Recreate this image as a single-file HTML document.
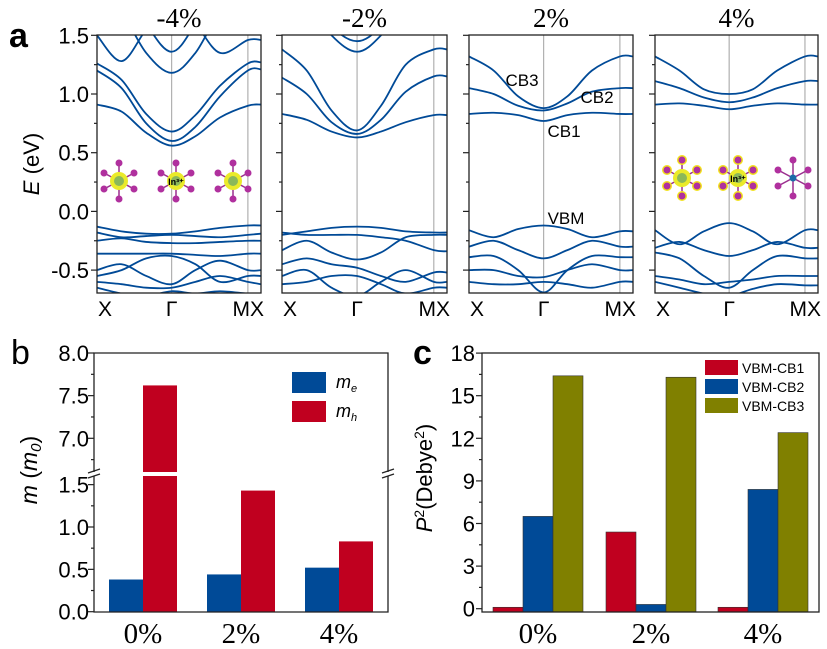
<!DOCTYPE html>
<html><head><meta charset="utf-8"><style>
body{margin:0;background:#fff}
svg{display:block}
text{font-family:"Liberation Sans",sans-serif;fill:#000}
.serif{font-family:"Liberation Serif",serif}
</style></head><body>
<svg id="fig" width="827" height="649" viewBox="0 0 827 649" xmlns="http://www.w3.org/2000/svg">
<defs></defs>
</svg>
<script>
// ---- band structure data (energies in eV at k samples) ----
const kPts = [0, 0.15, 0.3, 0.455, 0.6, 0.75, 0.92, 1.0];
const strainTitles = ["-4%", "-2%", "2%", "4%"];
const eTicks = [1.5, 1.0, 0.5, 0.0, -0.5];
const eTickLabels = ["1.5", "1.0", "0.5", "0.0", "-0.5"];
const bandsM4 = [
 [0.91,0.85,0.67,0.56,0.64,0.80,0.90,0.91],
 [1.20,1.05,0.75,0.60,0.72,0.98,1.20,1.21],
 [1.26,1.12,0.83,0.68,0.82,1.07,1.26,1.27],
 [1.90,1.70,1.35,1.18,1.35,1.70,1.90,1.90],
 [2.20,2.00,1.60,1.36,1.60,2.00,2.20,2.20],
 [1.50,1.28,1.55,1.80,1.60,1.35,1.46,1.46],
 [-0.13,-0.17,-0.19,-0.19,-0.17,-0.14,-0.12,-0.12],
 [-0.18,-0.22,-0.21,-0.20,-0.21,-0.22,-0.20,-0.19],
 [-0.25,-0.23,-0.26,-0.27,-0.27,-0.26,-0.25,-0.25],
 [-0.36,-0.36,-0.36,-0.36,-0.37,-0.38,-0.36,-0.36],
 [-0.50,-0.45,-0.55,-0.62,-0.50,-0.42,-0.50,-0.50],
 [-0.55,-0.50,-0.40,-0.38,-0.45,-0.60,-0.55,-0.55],
 [-0.60,-0.62,-0.65,-0.65,-0.60,-0.55,-0.60,-0.62],
 [-0.65,-0.70,-0.72,-0.68,-0.70,-0.68,-0.70,-0.70]
];
const bandsM2 = [
 [0.83,0.78,0.68,0.63,0.68,0.76,0.82,0.82],
 [1.14,1.00,0.76,0.66,0.78,1.02,1.15,1.15],
 [1.38,1.20,0.86,0.69,0.90,1.25,1.38,1.38],
 [2.00,1.80,1.50,1.36,1.50,1.80,2.00,2.00],
 [2.10,1.90,1.58,1.45,1.58,1.90,2.10,2.10],
 [-0.20,-0.17,-0.14,-0.13,-0.14,-0.17,-0.18,-0.18],
 [-0.33,-0.25,-0.35,-0.41,-0.35,-0.22,-0.20,-0.20],
 [-0.18,-0.20,-0.20,-0.20,-0.22,-0.25,-0.33,-0.34],
 [-0.45,-0.40,-0.45,-0.48,-0.55,-0.60,-0.52,-0.52],
 [-0.55,-0.50,-0.65,-0.72,-0.60,-0.50,-0.60,-0.60],
 [-0.62,-0.60,-0.55,-0.55,-0.62,-0.70,-0.65,-0.65]
];
const bandsP2 = [
 [0.83,0.84,0.82,0.77,0.82,0.84,0.83,0.83],
 [1.05,1.00,0.90,0.86,0.92,1.02,1.05,1.05],
 [1.32,1.20,0.98,0.88,0.98,1.20,1.32,1.32],
 [-0.16,-0.22,-0.15,-0.12,-0.15,-0.22,-0.17,-0.17],
 [-0.30,-0.25,-0.33,-0.40,-0.33,-0.25,-0.30,-0.30],
 [-0.39,-0.38,-0.50,-0.69,-0.50,-0.38,-0.39,-0.39],
 [-0.50,-0.50,-0.55,-0.56,-0.50,-0.45,-0.50,-0.50],
 [-0.60,-0.62,-0.62,-0.60,-0.62,-0.65,-0.60,-0.60]
];
const bandsP4 = [
 [0.91,0.92,0.90,0.87,0.90,0.92,0.91,0.91],
 [1.11,1.05,0.97,0.93,0.97,1.05,1.11,1.11],
 [1.32,1.20,1.04,1.00,1.04,1.20,1.32,1.32],
 [-0.16,-0.28,-0.17,-0.10,-0.17,-0.28,-0.16,-0.16],
 [-0.31,-0.26,-0.33,-0.38,-0.33,-0.26,-0.31,-0.31],
 [-0.35,-0.40,-0.55,-0.65,-0.50,-0.38,-0.40,-0.40],
 [-0.55,-0.58,-0.62,-0.60,-0.58,-0.55,-0.55,-0.55],
 [-0.60,-0.65,-0.70,-0.72,-0.66,-0.62,-0.63,-0.63]
];
const allBands = [bandsM4, bandsM2, bandsP2, bandsP4];

// ---- panel b data ----
const massCats = ["0%", "2%", "4%"];
const me = [0.38, 0.44, 0.52];
const mh = [7.62, 1.43, 0.83];
const mLowTicks = [0, 0.5, 1.0, 1.5];
const mLowLabels = ["0.0", "0.5", "1.0", "1.5"];
const mHighTicks = [7.0, 7.5, 8.0];
const mHighLabels = ["7.0", "7.5", "8.0"];

// ---- panel c data ----
const pCats = ["0%", "2%", "4%"];
const pCB1 = [0.1, 5.4, 0.1];
const pCB2 = [6.5, 0.3, 8.4];
const pCB3 = [16.4, 16.3, 12.4];
const pTicks = [0, 3, 6, 9, 12, 15, 18];
const pTickLabels = ["0", "3", "6", "9", "12", "15", "18"];

const NS = "http://www.w3.org/2000/svg";
const svg = document.getElementById("fig");
function mk(tag, attrs, parent){
  const e = document.createElementNS(NS, tag);
  for (const k in attrs) e.setAttribute(k, attrs[k]);
  (parent || svg).appendChild(e);
  return e;
}
const BLUE = "#004a97", RED = "#c0001f", OLIVE = "#808000";

// ================= panel a =================
const panelX = [[97,261],[282,447],[469,633],[655,818]];
const yTop = 35, yBot = 293;
function yE(e){ return 211.4 - e * 117.4; }
function smoothPath(pts){
  let d = "M" + pts[0][0] + "," + pts[0][1];
  for (let i = 0; i < pts.length - 1; i++){
    const p0 = pts[Math.max(0,i-1)], p1 = pts[i], p2 = pts[i+1], p3 = pts[Math.min(pts.length-1,i+2)];
    const c1x = p1[0] + (p2[0]-p0[0])/6, c1y = p1[1] + (p2[1]-p0[1])/6;
    const c2x = p2[0] - (p3[0]-p1[0])/6, c2y = p2[1] - (p3[1]-p1[1])/6;
    d += " C" + c1x + "," + c1y + " " + c2x + "," + c2y + " " + p2[0] + "," + p2[1];
  }
  return d;
}
const defs = svg.querySelector("defs");
panelX.forEach((px, pi) => {
  const [x0, x1] = px, w = x1 - x0;
  const kx = k => x0 + k * w;
  const cp = mk("clipPath", {id: "clip" + pi}, defs);
  mk("rect", {x: x0, y: yTop, width: w, height: yBot - yTop}, cp);
  const g = mk("g", {});
  
  
  [kPts[3], kPts[6]].forEach(k => {
    const l = mk("line", {x1: kx(k), x2: kx(k), y1: yTop, y2: yBot, stroke: "#b0b0b0", "stroke-width": 1.2}, g);
    
    
  });
  const bg = mk("g", {"clip-path": "url(#clip" + pi + ")"}, g);
  allBands[pi].forEach((band, bi) => {
    const pts = band.map((e, i) => [kx(kPts[i]), yE(e)]);
    const p = mk("path", {d: smoothPath(pts), fill: "none", stroke: BLUE, "stroke-width": 1.8}, bg);
    
    
  });
  const fr = mk("rect", {x: x0, y: yTop, width: w, height: yBot - yTop, fill: "none", stroke: "#222", "stroke-width": 1.3}, g);
  
  
  for (let e = 1.5; e >= -0.7; e -= 0.25){
    const major = Math.abs((e*2) - Math.round(e*2)) < 1e-6;
    mk("line", {x1: x0 - (major ? 6 : 3), x2: x0, y1: yE(e), y2: yE(e), stroke: "#222", "stroke-width": 1.2}, g);
  }
  const t = mk("text", {x: (x0+x1)/2, y: 27, "font-size": 27, "text-anchor": "middle", class: "serif"});
  t.textContent = strainTitles[pi];
  
  
  const kl = [["X", kx(0)+1, "start"], ["Γ", kx(kPts[3]), "middle"], ["MX", kx(1)+3, "end"]];
  kl.forEach(([s, x, a]) => {
    const tt = mk("text", {x: x, y: 316, "font-size": 21, "text-anchor": a});
    tt.textContent = s;
    
    
  });
});
eTicks.forEach((e, i) => {
  const t = mk("text", {x: 89, y: yE(e) + 8, "font-size": 22, "text-anchor": "end"});
  t.textContent = eTickLabels[i];
  
  
});
{
  const t = mk("text", {x: 0, y: 0, "font-size": 22, "text-anchor": "middle", transform: "translate(39,164) rotate(-90)"});
  t.innerHTML = '<tspan font-style="italic">E</tspan> (eV)';
  
  
  const a = mk("text", {x: 9, y: 47, "font-size": 34, "font-weight": "bold"});
  a.textContent = "a";
  
  
}
[["CB3",522,86],["CB2",597,103],["CB1",564,137],["VBM",566,224]].forEach(([s,x,y]) => {
  const t = mk("text", {x: x, y: y, "font-size": 17, "text-anchor": "middle"});
  t.textContent = s;
  
  
});
function molecule(cx, cy, glow, label, center){
  const g = mk("g", {});
  
  
  const arms = [[0,-18],[0,18],[-15,-8],[15,-8],[-15,8],[15,8]];
  arms.forEach(([dx,dy]) => {
    mk("line", {x1: cx, y1: cy, x2: cx+dx, y2: cy+dy, stroke: "#9a2e8e", "stroke-width": 1.5}, g);
    if (glow) mk("ellipse", {cx: cx+dx, cy: cy+dy, rx: 5, ry: 5, fill: "#f2e21c"}, g);
  });
  if (center !== "small") mk("circle", {cx: cx, cy: cy, r: 9, fill: "#eaea2a"}, g);
  mk("circle", {cx: cx, cy: cy, r: center === "small" ? 3.5 : 5, fill: center === "small" ? "#1c6ca8" : "#8bb85a"}, g);
  arms.forEach(([dx,dy]) => mk("circle", {cx: cx+dx, cy: cy+dy, r: 3.5, fill: "#b0309e"}, g));
  if (label){
    const t = mk("text", {x: cx, y: cy+4, "font-size": 9, "font-weight": "bold", "text-anchor": "middle"}, g);
    t.textContent = "In³⁺";
  }
}
molecule(119,181,false,false); molecule(176,181,false,true); molecule(233,181,false,false);
molecule(682,178,true,false); molecule(738,178,true,true); molecule(793,178,false,false,"small");

// ================= panel b =================
const bx0 = 94, bx1 = 388, byTop = 353, byBot = 612;
const breakLow = 476, breakHigh = 472;
function yLow(v){ return 611.7 - v * 84.7; }
function yHigh(v){ return 353 + (8 - v) * 85.3; }
const bCenters = [143, 241, 339], bW = 34;
function barB(x, v, color, name){
  if (v <= 1.6){
    const r = mk("rect", {x: x, y: yLow(v), width: bW, height: byBot - yLow(v), fill: color});
    
    
  } else {
    const r1 = mk("rect", {x: x, y: breakLow, width: bW, height: byBot - breakLow, fill: color});
    
    
    const r2 = mk("rect", {x: x, y: yHigh(v), width: bW, height: breakHigh - yHigh(v), fill: color});
    
    
  }
}
massCats.forEach((c, i) => {
  barB(bCenters[i] - bW, me[i], BLUE, 'me-bar-' + c.replace('%','pct'));
  barB(bCenters[i], mh[i], RED, 'mh-bar-' + c.replace('%','pct'));
  const t = mk("text", {x: bCenters[i], y: 643, "font-size": 29, "text-anchor": "middle", class: "serif"});
  t.textContent = c;
  
  
});
{
  const f = mk("path", {d: `M${bx0},${byTop} H${bx1} V${byBot} H${bx0} Z`, fill: "none", stroke: "#222", "stroke-width": 1.3});
  
  
  [bx0, bx1].forEach(x => {
    mk("rect", {x: x-6, y: breakHigh, width: 12, height: breakLow - breakHigh, fill: "#fff"});
    mk("line", {x1: x-6, y1: breakHigh+1, x2: x+6, y2: breakHigh-3, stroke: "#222", "stroke-width": 1.2});
    mk("line", {x1: x-6, y1: breakLow+2, x2: x+6, y2: breakLow-2, stroke: "#222", "stroke-width": 1.2});
  });
}
mLowTicks.forEach((v, i) => {
  mk("line", {x1: bx0-6, x2: bx0, y1: yLow(v), y2: yLow(v), stroke: "#222", "stroke-width": 1.2});
  if (v < 1.5) mk("line", {x1: bx0-3, x2: bx0, y1: yLow(v+0.25), y2: yLow(v+0.25), stroke: "#222", "stroke-width": 1.2});
  const t = mk("text", {x: 89, y: yLow(v) + 8, "font-size": 22, "text-anchor": "end"});
  t.textContent = mLowLabels[i];
  
  
});
mHighTicks.forEach((v, i) => {
  mk("line", {x1: bx0-6, x2: bx0, y1: yHigh(v), y2: yHigh(v), stroke: "#222", "stroke-width": 1.2});
  mk("line", {x1: bx0-3, x2: bx0, y1: yHigh(v-0.25), y2: yHigh(v-0.25), stroke: "#222", "stroke-width": 1.2});
  const t = mk("text", {x: 89, y: yHigh(v) + 8, "font-size": 22, "text-anchor": "end"});
  t.textContent = mHighLabels[i];
  
  
});
{
  const t = mk("text", {x: 0, y: 0, "font-size": 23, "text-anchor": "middle", transform: "translate(37,470) rotate(-90)"});
  t.innerHTML = '<tspan font-style="italic">m</tspan> (<tspan font-style="italic">m</tspan><tspan font-size="15" dy="4" font-style="italic">0</tspan><tspan dy="-4">)</tspan>';
  
  
  const b = mk("text", {x: 11, y: 364, "font-size": 34});
  b.textContent = "b";
  
  
  [["e", BLUE, 372], ["h", RED, 401]].forEach(([s, c, y]) => {
    const r = mk("rect", {x: 292, y: y, width: 34, height: 21, fill: c});
    
    
    const t2 = mk("text", {x: 336, y: y + 16, "font-size": 18, "font-style": "italic"});
    t2.innerHTML = 'm<tspan font-size="11" dy="4">' + s + '</tspan>';
    
    
  });
}

// ================= panel c =================
const cx0 = 482, cx1 = 819, cyTop = 353, cyBot = 612;
function yP(v){ return 608.7 - v * 14.2; }
const cCenters = [538, 651, 763], cW = 30;
pCats.forEach((c, i) => {
  const vals = [pCB1[i], pCB2[i], pCB3[i]], cols = [RED, BLUE, OLIVE];
  vals.forEach((v, j) => {
    const r = mk("rect", {x: cCenters[i] - 45 + j*cW, y: yP(v), width: cW, height: cyBot - yP(v), fill: cols[j], stroke: "#333", "stroke-width": 0.6});
    
    
  });
  const t = mk("text", {x: cCenters[i], y: 643, "font-size": 29, "text-anchor": "middle", class: "serif"});
  t.textContent = c;
  
  
});
{
  const f = mk("rect", {x: cx0, y: cyTop, width: cx1-cx0, height: cyBot-cyTop, fill: "none", stroke: "#222", "stroke-width": 1.3});
  
  
}
pTicks.forEach((v, i) => {
  mk("line", {x1: cx0-6, x2: cx0, y1: yP(v), y2: yP(v), stroke: "#222", "stroke-width": 1.2});
  if (v < 18) mk("line", {x1: cx0-3, x2: cx0, y1: yP(v+1.5), y2: yP(v+1.5), stroke: "#222", "stroke-width": 1.2});
  const t = mk("text", {x: 475, y: yP(v) + 8, "font-size": 22, "text-anchor": "end"});
  t.textContent = pTickLabels[i];
  
  
});
{
  const t = mk("text", {x: 0, y: 0, "font-size": 22, "text-anchor": "middle", transform: "translate(432,478) rotate(-90)"});
  t.innerHTML = '<tspan font-style="italic">P</tspan><tspan font-size="14" dy="-8">2</tspan><tspan dy="8">(Debye</tspan><tspan font-size="14" dy="-8">2</tspan><tspan dy="8">)</tspan>';
  
  
  const c = mk("text", {x: 413, y: 364, "font-size": 34, "font-weight": "bold"});
  c.textContent = "c";
  
  
  [["VBM-CB1", RED, 360], ["VBM-CB2", BLUE, 379], ["VBM-CB3", OLIVE, 398]].forEach(([s, col, y]) => {
    const r = mk("rect", {x: 705, y: y, width: 33, height: 15, fill: col});
    
    
    const t2 = mk("text", {x: 742, y: y + 13, "font-size": 14});
    t2.textContent = s;
    
    
  });
}
</script>
</body></html>
